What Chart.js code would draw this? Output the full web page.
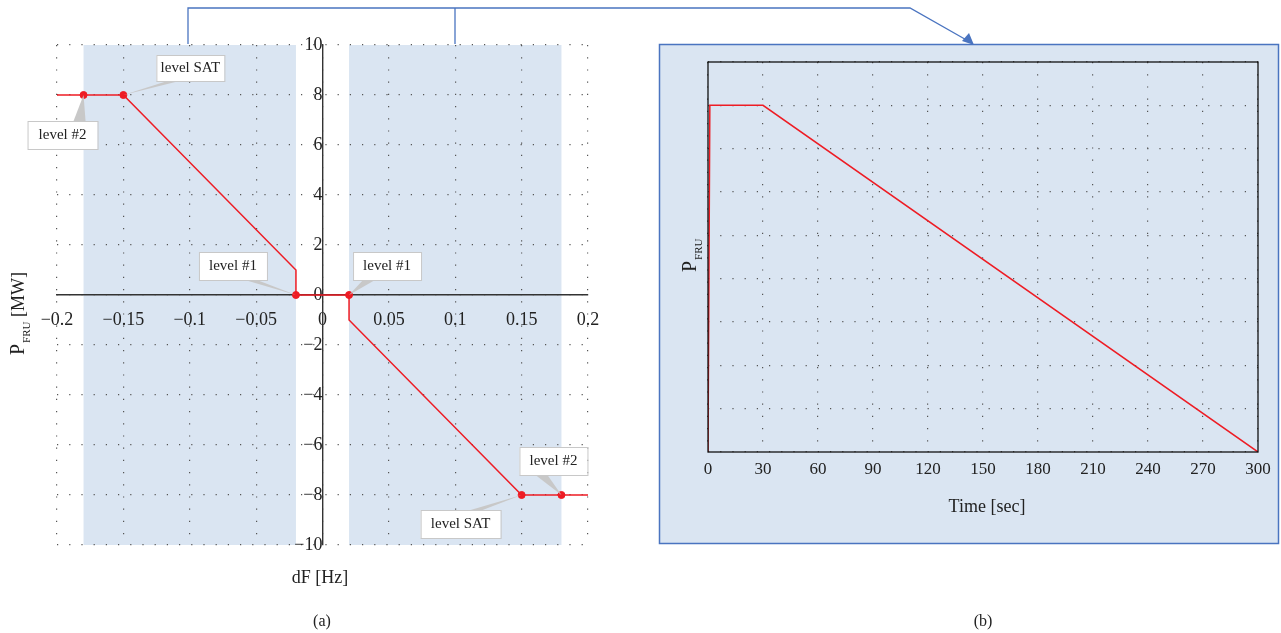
<!DOCTYPE html>
<html>
<head>
<meta charset="utf-8">
<script src="https://cdn.jsdelivr.net/npm/chart.js@4"></script>
<style>
  body { margin: 0; background: #fff; }
  #wrap { position: relative; width: 1281px; height: 633px; }
  #left { position: absolute; left: 0; top: 0; }
  #right { position: absolute; left: 640px; top: 0; }
  #links { position: absolute; left: 0; top: 0; pointer-events: none; }
</style>
</head>
<body>
<div id="wrap">
  <canvas id="left" width="640" height="633" style="width:640px;height:633px"></canvas>
  <canvas id="right" width="641" height="633" style="width:641px;height:633px"></canvas>
  <canvas id="links" width="1281" height="633" style="width:1281px;height:633px"></canvas>
</div>
<script>
// (a) droop characteristic
const dfValues = [-0.2, -0.15, -0.02, -0.02, 0.02, 0.02, 0.15, 0.2];
const powerValues = [8, 8, 1, 0, 0, -1, -8, -8];
const levelDf = [-0.18, -0.15, -0.02, 0.02, 0.15, 0.18];
const levelPower = [8, 8, 0, 0, -8, -8];
const levelNames = ["level #2", "level SAT", "level #1", "level #1", "level SAT", "level #2"];
const bandRanges = [[-0.18, -0.02], [0.02, 0.18]];
const dfTicks = [-0.2, -0.15, -0.1, -0.05, 0, 0.05, 0.1, 0.15, 0.2];
const powerTicks = [-10, -8, -6, -4, -2, 0, 2, 4, 6, 8, 10];

// (b) time response
const timeValues = [0, 1, 30, 300];
const pfruValues = [0, 8, 8, 0];
const timeTicks = [0, 30, 60, 90, 120, 150, 180, 210, 240, 270, 300];
const pfruTicks = [0, 1, 2, 3, 4, 5, 6, 7, 8, 9];

const serif = "'Liberation Serif', 'DejaVu Serif', serif";
const bandColor = "#dae5f2";
const red = "#ee1c24";

function minus(v) {
  return String(v).replace("-", "\u2212");
}

function fixedTicks(list) {
  return function (s) {
    s.ticks = list.map((v) => ({ value: v }));
  };
}

// box offsets of each callout relative to its point (pixels)
const calloutBoxes = [
  { dx: -56, dy: 26, w: 70, h: 28, tip: [-4, 26] },
  { dx: 33, dy: -40, w: 68, h: 26, tip: [50, -14] },
  { dx: -97, dy: -43, w: 68, h: 28, tip: [-45, -15] },
  { dx: 4, dy: -43, w: 68, h: 28, tip: [20, -15] },
  { dx: -101, dy: 15, w: 80, h: 28, tip: [-45, 15] },
  { dx: -42, dy: -48, w: 68, h: 28, tip: [-20, -20] },
];

function sub(ctx, x, y, main, small, size) {
  ctx.font = size + "px " + serif;
  ctx.fillText(main, x, y);
  const w = ctx.measureText(main).width;
  ctx.font = Math.round(size * 0.55) + "px " + serif;
  ctx.fillText(small, x + w + 1, y + size * 0.3);
  return w + 1 + ctx.measureText(small).width;
}

const leftPlugin = {
  id: "leftDecor",
  beforeDraw(chart) {
    const { ctx, chartArea, scales } = chart;
    ctx.save();
    ctx.fillStyle = bandColor;
    bandRanges.forEach(function (r) {
      const x0 = scales.x.getPixelForValue(r[0]);
      const x1 = scales.x.getPixelForValue(r[1]);
      ctx.fillRect(x0, chartArea.top, x1 - x0, chartArea.bottom - chartArea.top);
    });
    ctx.restore();
  },
  afterDraw(chart) {
    const { ctx, scales } = chart;
    ctx.save();
    levelDf.forEach(function (d, i) {
      const px = scales.x.getPixelForValue(d);
      const py = scales.y.getPixelForValue(levelPower[i]);
      const b = calloutBoxes[i];
      const bx = px + b.dx, by = py + b.dy;
      const tx = px + b.tip[0], ty = py + b.tip[1];
      ctx.fillStyle = "#c8c8c8";
      ctx.beginPath();
      ctx.moveTo(px, py);
      ctx.lineTo(tx - 6, ty);
      ctx.lineTo(tx + 6, ty);
      ctx.closePath();
      ctx.fill();
      ctx.fillStyle = "#fff";
      ctx.strokeStyle = "#c8c8c8";
      ctx.lineWidth = 1;
      ctx.fillRect(bx, by, b.w, b.h);
      ctx.strokeRect(bx + 0.5, by + 0.5, b.w, b.h);
      ctx.fillStyle = "#222";
      ctx.font = "15px " + serif;
      ctx.textAlign = "center";
      ctx.textBaseline = "middle";
      ctx.fillText(levelNames[i], bx + b.w / 2, by + b.h / 2);
    });
    ctx.fillStyle = "#222";
    ctx.textAlign = "center";
    ctx.textBaseline = "alphabetic";
    ctx.font = "18px " + serif;
    ctx.fillText("dF [Hz]", 320, 583);
    ctx.font = "16px " + serif;
    ctx.fillText("(a)", 322, 626);
    ctx.translate(24, 300);
    ctx.rotate(-Math.PI / 2);
    ctx.textAlign = "left";
    const w1 = sub(ctx, -55, 0, "P", "FRU", 20);
    ctx.font = "18px " + serif;
    ctx.fillText(" [MW]", -55 + w1, 0);
    ctx.restore();
  },
};

new Chart(document.getElementById("left"), {
  type: "scatter",
  data: {
    datasets: [
      {
        data: dfValues.map((d, i) => ({ x: d, y: powerValues[i] })),
        showLine: true,
        borderColor: red,
        borderWidth: 1.5,
        pointRadius: 0,
      },
      {
        data: levelDf.map((d, i) => ({ x: d, y: levelPower[i] })),
        showLine: false,
        backgroundColor: red,
        borderColor: red,
        pointRadius: 3.5,
      },
    ],
  },
  options: {
    responsive: false,
    animation: false,
    layout: { padding: { left: 57, top: 45, right: 52, bottom: 88 } },
    plugins: { legend: { display: false }, tooltip: { enabled: false } },
    scales: {
      x: {
        type: "linear",
        position: { y: 0 },
        min: -0.2,
        max: 0.2,
        afterBuildTicks: fixedTicks(dfTicks),
        afterFit(s) { s.height = 0; },
        ticks: { autoSkip: false, maxRotation: 0, color: "#222", font: { family: serif, size: 18 }, padding: 14,
          callback: (v) => minus(Math.round(v * 100) / 100) },
        grid: { color: "#555", lineWidth: 1.2, drawTicks: false },
        border: { color: "#333", width: 1.4, dash: [1.2, 11] },
      },
      y: {
        type: "linear",
        position: { x: 0 },
        min: -10,
        max: 10,
        afterBuildTicks: fixedTicks(powerTicks),
        afterFit(s) { s.width = 0; },
        ticks: { autoSkip: false, color: "#222", font: { family: serif, size: 18 }, padding: 4,
          callback: (v) => minus(v) },
        grid: { color: "#555", lineWidth: 1.2, drawTicks: false },
        border: { color: "#333", width: 1.4, dash: [1.2, 11] },
      },
    },
  },
  plugins: [leftPlugin],
});

const rightPlugin = {
  id: "rightDecor",
  beforeDraw(chart) {
    const { ctx } = chart;
    ctx.save();
    ctx.fillStyle = bandColor;
    ctx.fillRect(19, 44, 620, 500);
    ctx.strokeStyle = "#4a74c0";
    ctx.lineWidth = 1.5;
    ctx.strokeRect(19.5, 44.5, 619, 499);
    ctx.restore();
  },
  afterDraw(chart) {
    const { ctx, chartArea, scales } = chart;
    ctx.save();
    ctx.strokeStyle = "#111";
    ctx.lineWidth = 1.3;
    ctx.strokeRect(chartArea.left, chartArea.top, chartArea.right - chartArea.left, chartArea.bottom - chartArea.top);
    ctx.fillStyle = "#222";
    ctx.textAlign = "center";
    ctx.textBaseline = "top";
    ctx.font = "17px " + serif;
    timeTicks.forEach(function (t) {
      ctx.fillText(String(t), scales.x.getPixelForValue(t), chartArea.bottom + 9);
    });
    ctx.textBaseline = "alphabetic";
    ctx.font = "18px " + serif;
    ctx.fillText("Time [sec]", 347, 512);
    ctx.font = "16px " + serif;
    ctx.fillText("(b)", 343, 626);
    ctx.translate(56, 272);
    ctx.rotate(-Math.PI / 2);
    ctx.textAlign = "left";
    sub(ctx, 0, 0, "P", "FRU", 20);
    ctx.restore();
  },
};

new Chart(document.getElementById("right"), {
  type: "scatter",
  data: {
    datasets: [
      {
        data: timeValues.map((t, i) => ({ x: t, y: pfruValues[i] })),
        showLine: true,
        borderColor: red,
        borderWidth: 1.5,
        pointRadius: 0,
      },
    ],
  },
  options: {
    responsive: false,
    animation: false,
    layout: { padding: { left: 68, top: 62, right: 23, bottom: 181 } },
    plugins: { legend: { display: false }, tooltip: { enabled: false } },
    scales: {
      x: {
        type: "linear",
        min: 0,
        max: 300,
        afterBuildTicks: fixedTicks(timeTicks),
        afterFit(s) { s.height = 0; },
        ticks: { display: false },
        grid: { color: "#555", lineWidth: 1.2, drawTicks: false },
        border: { display: false, dash: [1.2, 11] },
      },
      y: {
        type: "linear",
        min: 0,
        max: 9,
        afterBuildTicks: fixedTicks(pfruTicks),
        afterFit(s) { s.width = 0; },
        ticks: { display: false },
        grid: { color: "#555", lineWidth: 1.2, drawTicks: false },
        border: { display: false, dash: [1.2, 11] },
      },
    },
  },
  plugins: [rightPlugin],
});

// connector between panels
const lc = document.getElementById("links").getContext("2d");
lc.strokeStyle = "#4a74c0";
lc.lineWidth = 1.3;
lc.beginPath();
lc.moveTo(188, 44);
lc.lineTo(188, 8);
lc.lineTo(910, 8);
lc.lineTo(970, 42);
lc.moveTo(455, 8);
lc.lineTo(455, 44);
lc.stroke();
lc.fillStyle = "#4a74c0";
lc.beginPath();
lc.moveTo(974, 45);
lc.lineTo(962, 41);
lc.lineTo(969, 33);
lc.closePath();
lc.fill();
</script>
</body>
</html>
